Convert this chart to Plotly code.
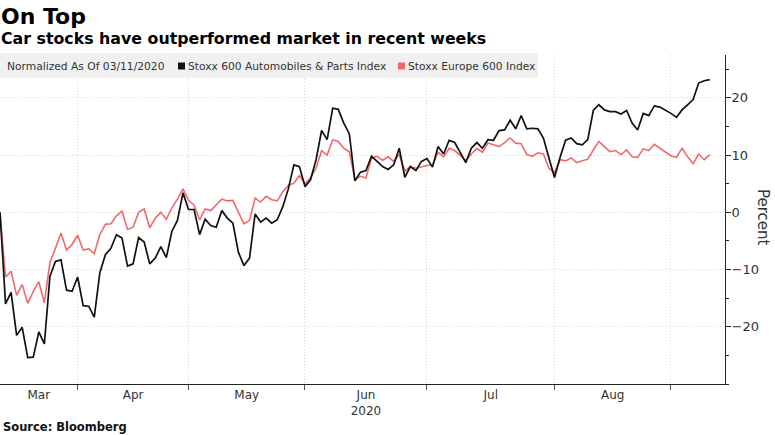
import plotly.graph_objects as go

# Percent change since 03/11/2020, one value per trading session
AUTO = [0, -16.0, -14.0, -21.5, -20.1, -25.4, -25.3, -20.9, -23.0, -11.2,
        -8.6, -8.3, -13.6, -13.8, -11.3, -16.3, -16.4, -18.3, -10.6, -7.4,
        -6.3, -3.9, -4.5, -9.4, -9.0, -4.4, -5.2, -9.0, -8.0, -6.0,
        -7.9, -3.3, -1.4, 3.4, 0.5, 0.5, -3.9, -1.2, -2.3, -2.6,
        0.3, -1.0, -1.9, -7.0, -9.3, -8.0, -0.3, -1.7, -1.0, -1.9,
        -1.3, 1.0, 4.1, 8.3, 8.0, 4.5, 5.7, 9.2, 14.3, 12.7,
        18.2, 18.0, 15.6, 13.7, 5.5, 7.0, 7.3, 9.8, 8.9, 8.0,
        7.5, 8.3, 11.2, 6.1, 8.0, 7.3, 8.9, 9.4, 7.9, 11.5,
        10.2, 12.6, 12.2, 10.5, 8.7, 11.2, 12.2, 11.2, 12.7, 12.6,
        14.3, 14.4, 16.1, 14.6, 16.9, 14.6, 14.7, 14.6, 13.0, 9.5,
        6.1, 9.6, 12.6, 13.0, 12.0, 11.8, 12.7, 17.8, 18.8, 17.9,
        17.6, 17.6, 17.2, 17.8, 15.6, 14.4, 17.3, 16.9, 18.6, 18.4,
        17.9, 17.3, 16.6, 17.9, 18.8, 19.7, 22.6, 23.0, 23.2]

STOXX = [0, -11.3, -10.3, -14.5, -12.6, -15.9, -13.8, -12.1, -15.8, -8.8,
         -6.3, -3.6, -6.6, -5.6, -4.0, -6.6, -6.4, -7.2, -3.9, -2.1,
         -2.0, -0.6, 0.2, -3.0, -2.6, 0.0, 0.6, -2.7, -1.0, 0.0,
         -1.2, 0.8, 2.3, 4.1, 2.1, 1.3, -1.3, 0.6, 0.3, 1.3,
         2.3, 2.0, 2.1, 0.0, -2.0, -1.4, 2.5, 1.8, 2.8, 2.2,
         2.0, 3.6, 4.7, 5.1, 6.4, 5.0, 6.1, 7.7, 10.8, 10.0,
         12.7, 12.4, 11.2, 10.6, 5.7, 6.3, 6.0, 9.5, 9.8, 9.1,
         9.7, 8.9, 10.1, 7.2, 8.0, 7.7, 8.0, 8.2, 8.3, 10.5,
         9.7, 11.2, 10.8, 9.9, 9.1, 10.2, 11.2, 10.5, 12.1, 11.8,
         11.5, 12.2, 13.0, 12.1, 12.0, 10.1, 9.8, 10.4, 10.2, 7.7,
         6.9, 9.2, 9.0, 9.5, 8.7, 9.0, 9.3, 10.9, 12.4, 11.5,
         10.6, 10.8, 10.1, 10.9, 9.7, 9.6, 11.1, 10.8, 11.9, 11.2,
         10.6, 9.9, 9.6, 11.2, 9.7, 8.5, 10.2, 9.2, 10.1]

SESSION = list(range(len(AUTO)))             # trading-session index
MONTHS = ["Mar", "Apr", "May", "Jun", "Jul", "Aug"]
MONTH_START = [0, 14, 34, 55, 77, 100, 121]   # session index where each month begins
YEAR = "2020"
Y_TICKS = [-20, -10, 0, 10, 20]

NAME_AUTO = "Stoxx 600 Automobiles & Parts Index"
NAME_STOXX = "Stoxx Europe 600 Index"

BLACK = "#111111"
RED = "#f06a6a"
FONT = "DejaVu Sans"

# plot area in pixels
W, H = 775, 435
PL, PR, PT, PB = 0, 725, 55, 384


def xp(px):
    return (px - PL) / (PR - PL)


def yp(py):
    return (PB - py) / (PB - PT)


mid = [(MONTH_START[i] + MONTH_START[i + 1]) / 2 for i in range(len(MONTHS))]
labels = [m + ("<br>" + YEAR if m == "Jun" else "") for m in MONTHS]

fig = go.Figure()
fig.add_trace(go.Scatter(x=SESSION, y=STOXX, mode="lines", name=NAME_STOXX,
                         line=dict(color=RED, width=1.6)))
fig.add_trace(go.Scatter(x=SESSION, y=AUTO, mode="lines", name=NAME_AUTO,
                         line=dict(color=BLACK, width=1.7)))

grid = "#d6d6d6"
gdash = "1px,2px"
fig.update_layout(
    width=W, height=H,
    margin=dict(l=PL, r=W - PR, t=PT, b=H - PB),
    paper_bgcolor="white", plot_bgcolor="white",
    showlegend=False,
    font=dict(family=FONT, color="#333333"),
    xaxis=dict(
        range=[0, (PR - PL) / 5.545],
        tickmode="array", tickvals=mid, ticktext=labels,
        ticks="", showgrid=False, zeroline=False,
        showline=True, linecolor="#222222", linewidth=1,
        tickfont=dict(family=FONT, size=12, color="#333333"),
        minor=dict(tickmode="array", tickvals=MONTH_START[1:],
                   ticks="outside", ticklen=5, tickcolor="#555555",
                   showgrid=True, gridcolor=grid, griddash=gdash, gridwidth=1),
    ),
    yaxis=dict(
        side="right", range=[-30, 27.5],
        tickmode="array", tickvals=Y_TICKS,
        ticks="outside", ticklen=5, tickcolor="#222222",
        showline=True, linecolor="#222222", linewidth=1,
        showgrid=True, gridcolor=grid, griddash=gdash, gridwidth=1,
        zeroline=False, ticklabelstandoff=-2,
        tickfont=dict(family=FONT, size=13, color="#333333"),
        minor=dict(tick0=0, dtick=5, ticks="outside", ticklen=3,
                   tickcolor="#222222", showgrid=False),
    ),
)

# legend band
fig.add_shape(type="rect", xref="paper", yref="paper",
              x0=xp(0), x1=xp(538), y0=yp(78), y1=yp(53),
              fillcolor="rgba(238,238,238,0.9)", line=dict(width=0), layer="above")
fig.add_shape(type="rect", xref="paper", yref="paper",
              x0=xp(178), x1=xp(185), y0=yp(69.5), y1=yp(62.5),
              fillcolor=BLACK, line=dict(width=0), layer="above")
fig.add_shape(type="rect", xref="paper", yref="paper",
              x0=xp(398), x1=xp(405), y0=yp(69.5), y1=yp(62.5),
              fillcolor=RED, line=dict(width=0), layer="above")

ann = [
    dict(text="<b>On Top</b>", x=xp(-1), y=yp(2), size=22, color="#000000"),
    dict(text="<b>Car stocks have outperformed market in recent weeks</b>",
         x=xp(-1), y=yp(27), size=15.8, color="#000000"),
    dict(text="Normalized As Of 03/11/2020", x=xp(5), y=yp(58), size=10.7, color="#333333"),
    dict(text=NAME_AUTO, x=xp(186), y=yp(58), size=10.7, color="#333333"),
    dict(text=NAME_STOXX, x=xp(406), y=yp(58), size=10.7, color="#333333"),
    dict(text="<b>Source: Bloomberg</b>", x=xp(1), y=yp(418), size=11.5, color="#111111"),
]
for a in ann:
    fig.add_annotation(text=a["text"], x=a["x"], y=a["y"], xref="paper", yref="paper",
                       xanchor="left", yanchor="top", showarrow=False,
                       font=dict(family=FONT, size=a["size"], color=a["color"]))

fig.add_annotation(text="Percent", x=xp(763), y=yp(217), xref="paper", yref="paper",
                   xanchor="center", yanchor="middle", textangle=90, showarrow=False,
                   font=dict(family=FONT, size=15, color="#333333"))

fig.write_html("out.html",
               config={"displayModeBar": False},
               post_script="document.body.style.margin='0';"
                           "document.body.style.overflow='hidden';")
